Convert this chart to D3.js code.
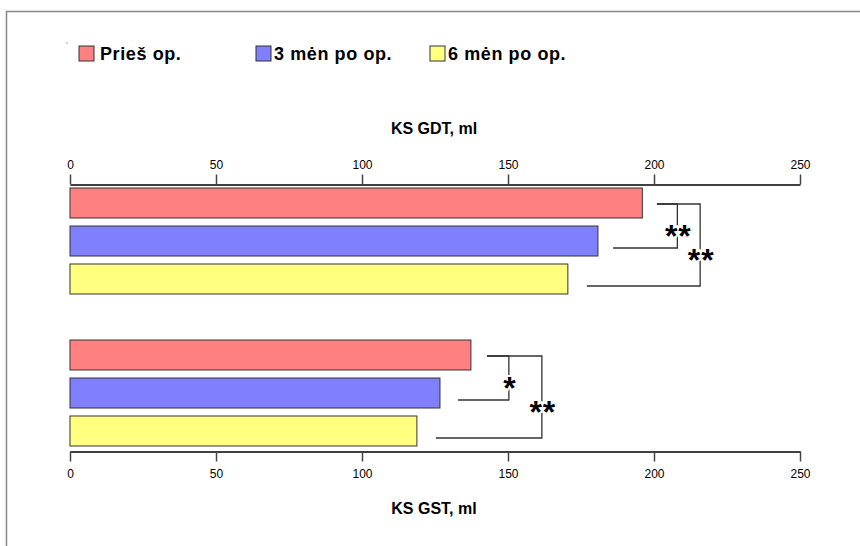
<!DOCTYPE html>
<html>
<head>
<meta charset="utf-8">
<script src="https://cdn.jsdelivr.net/npm/d3@7"></script>
<style>
  body { margin: 0; background: #fff; }
  text { font-family: "Liberation Sans", Arial, sans-serif; }
</style>
</head>
<body>
<script>
var width = 860,
  height = 546;

// data
var seriesNames = ["Prieš op.", "3 mėn po op.", "6 mėn po op."];
var seriesColors = ["#ff8080", "#8080ff", "#ffff80"];
var gdtValues = [196, 180.8, 170.5];
var gstValues = [137.3, 126.7, 118.8];
var tickValues = [0, 50, 100, 150, 200, 250];
var topTitle = "KS GDT, ml";
var bottomTitle = "KS GST, ml";

// significance brackets: [from bar, to bar, top start, bracket x, bottom start, label]
var gdtMarks = [
  [0, 1, 201, 208, 186, "**"],
  [0, 2, 201, 215.8, 177, "**"]
];
var gstMarks = [
  [0, 1, 142.8, 150.3, 132.9, "*"],
  [0, 2, 142.8, 161.6, 125.3, "**"]
];

var scaleX = d3.scaleLinear()
                .domain([0, 250])
                .range([70, 800]);

var barH = 30, barStep = 38;

function drawGroup(svg, values, marks, top) {
  var g = svg.append("g");

  g.selectAll("rect")
    .data(values)
    .enter()
    .append("rect")
    .attr("x", scaleX(0))
    .attr("y", function(d, i) { return top + i * barStep; })
    .attr("width", function(d) { return scaleX(d) - scaleX(0); })
    .attr("height", barH)
    .style("fill", function(d, i) { return seriesColors[i]; })
    .style("stroke", "#333")
    .style("stroke-width", 1);

  function mid(i) { return top + i * barStep + barH / 2; }

  g.selectAll("path.br")
    .data(marks)
    .enter()
    .append("path")
    .attr("class", "br")
    .attr("d", function(d) {
      var y1 = mid(d[0]) + 1, y2 = mid(d[1]) + 7;
      return "M" + scaleX(d[2]) + "," + y1 + "H" + scaleX(d[3]) +
             "V" + y2 + "H" + scaleX(d[4]);
    })
    .style("fill", "none")
    .style("stroke", "#333")
    .style("stroke-width", 1.3);

  g.selectAll("text.star")
    .data(marks)
    .enter()
    .append("text")
    .attr("class", "star")
    .attr("x", function(d) { return scaleX(d[3]) + 1; })
    .attr("y", function(d) {
      var c = (mid(d[0]) + mid(d[1])) / 2 + 9 + (d[1] - d[0] - 1) * 5;
      return c + 16;
    })
    .attr("text-anchor", "middle")
    .style("font-size", "32px")
    .style("font-weight", "bold")
    .style("letter-spacing", "1px")
    .style("paint-order", "stroke")
    .style("stroke", "#fff")
    .style("stroke-width", 4)
    .style("fill", "#000")
    .text(function(d) { return d[5]; });
}

function draw() {
  var svg = d3.select("body").append("svg")
              .attr("width", width)
              .attr("height", height);

  // frame
  svg.append("path")
    .attr("d", "M6.5," + height + "V11.5H" + width)
    .style("fill", "none")
    .style("stroke", "#888")
    .style("stroke-width", 1.5);

  svg.append("rect")
    .attr("x", 66.5).attr("y", 42.5).attr("width", 1).attr("height", 1)
    .style("fill", "#444");

  // legend
  var legX = [79, 256, 430];
  var leg = svg.selectAll("g.leg")
    .data(seriesNames)
    .enter()
    .append("g")
    .attr("class", "leg")
    .attr("transform", function(d, i) { return "translate(" + legX[i] + ",46)"; });
  leg.append("rect")
    .attr("width", 15).attr("height", 15)
    .style("fill", function(d, i) { return seriesColors[i]; })
    .style("stroke", "#333");
  leg.append("text")
    .attr("x", function(d, i) { return i == 0 ? 21 : 18; })
    .attr("y", 14)
    .style("font-size", "18px")
    .style("font-weight", "bold")
    .style("letter-spacing", "0.6px")
    .text(function(d) { return d; });

  // axes
  var topAxis = d3.axisTop(scaleX).tickValues(tickValues).tickSize(10).tickSizeOuter(0);
  var bottomAxis = d3.axisBottom(scaleX).tickValues(tickValues).tickSize(10).tickSizeOuter(0);

  var ta = svg.append("g").attr("transform", "translate(0,184.5)").call(topAxis);
  var ba = svg.append("g").attr("transform", "translate(0,451.5)").call(bottomAxis);
  [ta, ba].forEach(function(a) {
    a.select(".domain").style("stroke", "#000").style("stroke-width", 1.3);
    a.selectAll(".tick line").style("stroke", "#444").style("stroke-width", 1.5);
    a.selectAll(".tick text")
      .style("font-size", "12px")
      .style("font-family", "'Liberation Sans Narrow', 'Liberation Sans', Arial, sans-serif")
      .style("fill", "#000");
  });
  ta.selectAll(".tick text").attr("y", -16);
  ba.selectAll(".tick text").attr("y", 18);

  svg.append("text")
    .attr("x", 434).attr("y", 134)
    .attr("text-anchor", "middle")
    .style("font-size", "16px").style("font-weight", "bold")
    .text(topTitle);
  svg.append("text")
    .attr("x", 434).attr("y", 514)
    .attr("text-anchor", "middle")
    .style("font-size", "16px").style("font-weight", "bold")
    .text(bottomTitle);

  drawGroup(svg, gdtValues, gdtMarks, 188);
  drawGroup(svg, gstValues, gstMarks, 340);
}

draw();
</script>
</body>
</html>
